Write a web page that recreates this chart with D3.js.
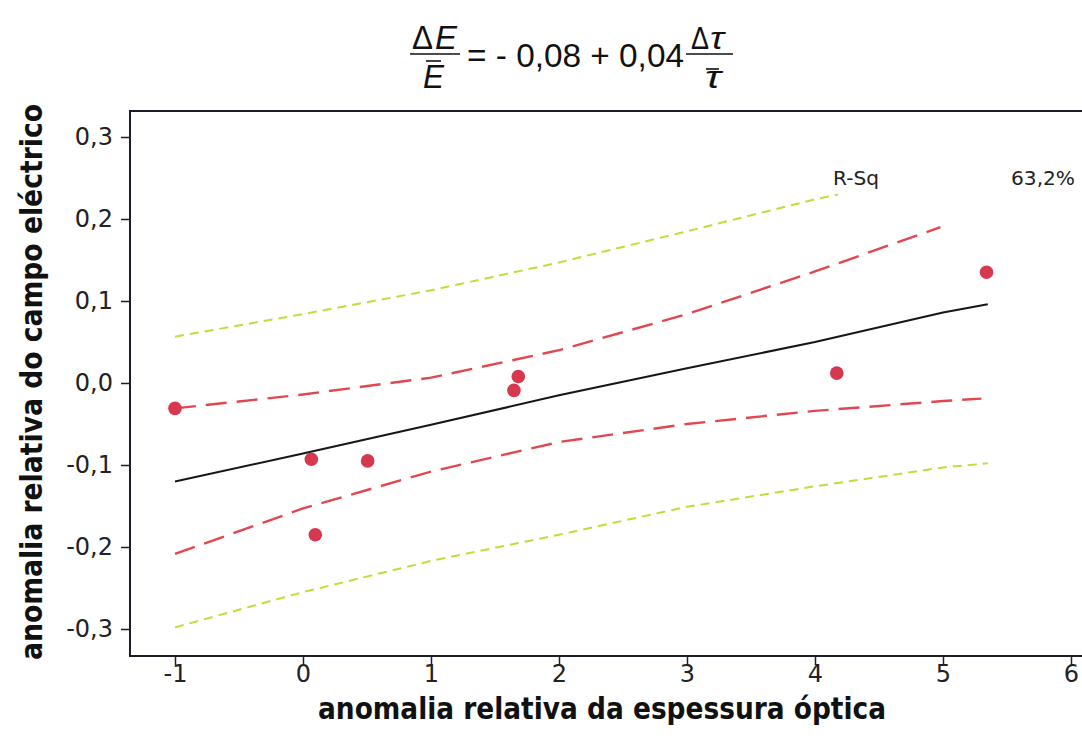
<!DOCTYPE html>
<html>
<head>
<meta charset="utf-8">
<script src="https://cdn.jsdelivr.net/npm/d3@7/dist/d3.min.js"></script>
<style>
  html, body { margin: 0; padding: 0; background: #fff; }
  svg { display: block; }
</style>
</head>
<body>
<svg id="chart" width="1082" height="745"></svg>
<script>
// Observations: relative optical-thickness anomaly vs relative electric-field anomaly
const obsX = [-1.0, 0.065, 0.096, 0.505, 1.648, 1.682, 4.17, 5.34];
const obsY = [-0.031, -0.093, -0.185, -0.095, -0.009, 0.008, 0.012, 0.135];

// Fitted regression line
const fitX = [-1, 0, 1, 2, 3, 4, 5, 5.35];
const fitY = [-0.120, -0.086, -0.051, -0.015, 0.018, 0.050, 0.086, 0.096];

// 95% confidence band
const ciUpperX = [-1, 0, 1, 2, 3, 4, 4.98];
const ciUpperY = [-0.031, -0.014, 0.0065, 0.040, 0.084, 0.136, 0.190];
const ciLowerX = [-1, 0, 1, 2, 3, 4, 5, 5.3];
const ciLowerY = [-0.2085, -0.153, -0.108, -0.072, -0.050, -0.034, -0.022, -0.019];

// 95% prediction band
const piUpperX = [-1, 0, 1, 2, 3, 4, 4.18];
const piUpperY = [0.0565, 0.084, 0.113, 0.147, 0.185, 0.224, 0.230];
const piLowerX = [-1, 0, 1, 2, 3, 4, 5, 5.35];
const piLowerY = [-0.298, -0.255, -0.217, -0.185, -0.151, -0.126, -0.103, -0.098];

// Axis ticks
const xTicks = [-1, 0, 1, 2, 3, 4, 5, 6];
const yTicks = [-0.3, -0.2, -0.1, 0.0, 0.1, 0.2, 0.3];

const rSqLabel = "R-Sq";
const rSqValue = "63,2%";

const FONT = "'DejaVu Sans', Verdana, sans-serif";
const EQ_FONT = "'Liberation Sans', Arial, sans-serif";
const svg = d3.select("#chart");

const x = d3.scaleLinear().domain([-1, 6]).range([175, 1071]);
const y = d3.scaleLinear().domain([-0.3, 0.3]).range([629, 137]);

const frame = { left: 130, top: 111, bottom: 656, right: 1100 };

// plot frame (open to the right edge)
svg.append("rect")
  .attr("x", frame.left).attr("y", frame.top)
  .attr("width", frame.right - frame.left).attr("height", frame.bottom - frame.top)
  .attr("fill", "none").attr("stroke", "#1d1d26").attr("stroke-width", 2);

const fmtComma = d => d3.format(".1f")(d).replace(".", ",").replace("−", "-");

// y axis
const yAxis = svg.append("g")
  .attr("transform", `translate(${frame.left},0)`)
  .call(d3.axisLeft(y).tickValues(yTicks).tickSize(9).tickPadding(8).tickFormat(fmtComma));
yAxis.select(".domain").remove();
yAxis.selectAll(".tick line").attr("stroke", "#1d1d26").attr("stroke-width", 1.5);
yAxis.selectAll(".tick text")
  .attr("font-family", FONT).attr("font-size", 24).attr("fill", "#222");

// x axis
const xAxis = svg.append("g")
  .attr("transform", `translate(0,${frame.bottom})`)
  .call(d3.axisBottom(x).tickValues(xTicks).tickSize(9).tickPadding(0)
        .tickFormat(d => String(d).replace("−", "-")));
xAxis.select(".domain").remove();
xAxis.selectAll(".tick line").attr("stroke", "#1d1d26").attr("stroke-width", 1.5);
xAxis.selectAll(".tick text")
  .attr("font-family", FONT).attr("font-size", 24).attr("fill", "#222");

// axis titles
svg.append("text")
  .attr("x", 602).attr("y", 719)
  .attr("text-anchor", "middle")
  .attr("font-family", FONT).attr("font-weight", "bold").attr("font-size", 30)
  .attr("textLength", 568).attr("lengthAdjust", "spacingAndGlyphs")
  .attr("fill", "#111")
  .text("anomalia relativa da espessura óptica");

svg.append("text")
  .attr("transform", "translate(42,382) rotate(-90)")
  .attr("text-anchor", "middle")
  .attr("font-family", FONT).attr("font-weight", "bold").attr("font-size", 30)
  .attr("textLength", 556).attr("lengthAdjust", "spacingAndGlyphs")
  .attr("fill", "#111")
  .text("anomalia relativa do campo eléctrico");

// curves
const line = d3.line().x(d => x(d[0])).y(d => y(d[1]));
const pairs = (xs, ys) => xs.map((v, i) => [v, ys[i]]);

const curves = [
  { pts: pairs(piUpperX, piUpperY), color: "#c2dc3a", width: 2, dash: "9,6" },
  { pts: pairs(piLowerX, piLowerY), color: "#c2dc3a", width: 2, dash: "9,6" },
  { pts: pairs(ciUpperX, ciUpperY), color: "#e2474f", width: 2.4, dash: "21,10" },
  { pts: pairs(ciLowerX, ciLowerY), color: "#e2474f", width: 2.4, dash: "21,10" },
  { pts: pairs(fitX, fitY), color: "#15151c", width: 2, dash: null }
];
svg.append("g").selectAll("path").data(curves).join("path")
  .attr("d", d => line(d.pts))
  .attr("fill", "none")
  .attr("stroke", d => d.color)
  .attr("stroke-width", d => d.width)
  .attr("stroke-dasharray", d => d.dash);

// observations
svg.append("g").selectAll("circle").data(pairs(obsX, obsY)).join("circle")
  .attr("cx", d => x(d[0])).attr("cy", d => y(d[1]))
  .attr("r", 6.8)
  .attr("fill", "#d5384f");

// R-Sq legend
svg.append("text")
  .attr("x", 833).attr("y", 185)
  .attr("font-family", FONT).attr("font-size", 19).attr("fill", "#222")
  .attr("textLength", 46).attr("lengthAdjust", "spacingAndGlyphs")
  .text(rSqLabel);
svg.append("text")
  .attr("x", 1011).attr("y", 185)
  .attr("font-family", FONT).attr("font-size", 19).attr("fill", "#222")
  .attr("textLength", 64).attr("lengthAdjust", "spacingAndGlyphs")
  .text(rSqValue);

// regression equation:  ΔE/Ē = - 0,08 + 0,04 Δτ/τ̄
const eq = svg.append("g").attr("font-family", EQ_FONT).attr("fill", "#111");
const EQ_SIZE = 34;
const FRAC_SIZE = 33;

function eqText(xPos, yPos, str, size, italic, len) {
  const t = eq.append("text").attr("x", xPos).attr("y", yPos)
    .attr("font-size", size).text(str);
  if (italic) t.attr("font-style", "italic");
  if (len) t.attr("textLength", len).attr("lengthAdjust", "spacingAndGlyphs");
  return t;
}
function eqRule(x1, x2, yPos) {
  eq.append("line").attr("x1", x1).attr("x2", x2).attr("y1", yPos).attr("y2", yPos)
    .attr("stroke", "#111").attr("stroke-width", 1.6);
}

// left fraction
eqText(412, 49, "Δ", FRAC_SIZE, false, 21);
eqText(435, 49, "E", FRAC_SIZE, true, 22);
eqRule(410, 460, 54);
eqText(423, 88, "E", FRAC_SIZE, true, 21);
eqRule(426, 441, 61);

// middle terms
eqText(467, 67, "= - 0,08 + 0,04", EQ_SIZE, false, 217);

// right fraction
eqText(691, 49, "Δ", FRAC_SIZE - 2, false, 18);
eqText(710, 49, "τ", FRAC_SIZE - 2, true, 14);
eqRule(686, 733, 54);
eqText(705, 88, "τ", FRAC_SIZE - 2, true, 16);
eqRule(706, 719, 69);
</script>
</body>
</html>
